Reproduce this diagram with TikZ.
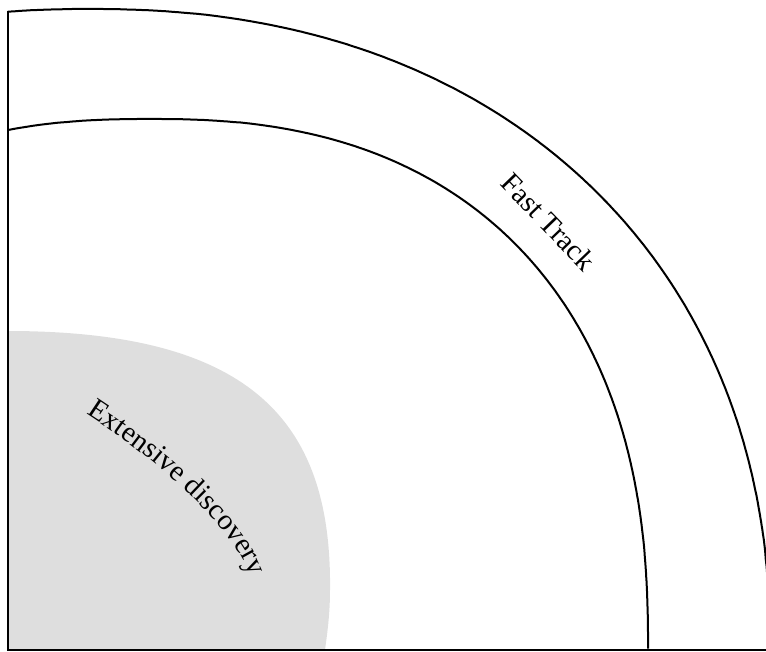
\documentclass[tikz,border=0pt]{standalone}
\usepackage{fontspec}
\setmainfont{Liberation Serif}
\usetikzlibrary{decorations.text}
\definecolor{blobgray}{RGB}{222,222,222}
\tikzset{
  frameline/.style={line width=2pt, line cap=rect},
  bandline/.style={line width=2pt},
  labeltext/.style={font=\fontsize{29}{32}\selectfont, text=black}
}
\begin{document}
\begin{tikzpicture}[x=1pt,y=-1pt]
\useasboundingbox (0,0) rectangle (766,652);
\begin{scope}
  \clip (7.5,0) rectangle (766,650);
  \fill[blobgray] (7.5,331) .. controls (250,331) and (332,420) .. (330,590)
        .. controls (330,615) and (327,635) .. (325,650) -- (7.5,650) -- cycle;
  % outer curve
  \draw[bandline] plot[domain=0.05:100, samples=300, variable=\t, smooth]
     ({90+680*sign(cos(\t))*abs(cos(\t))^0.909}, {650-641*abs(sin(\t))^0.909});
  % inner curve
  \draw[bandline] plot[domain=0.05:112, samples=300, variable=\t, smooth]
     ({150+498*sign(cos(\t))*abs(cos(\t))^0.8333}, {650-531*abs(sin(\t))^0.8333});
\end{scope}
\coordinate (topleft) at (7.5,11.8);
\coordinate (corner) at (7.5,650);
\coordinate (rightend) at (766,650);
\draw[frameline] (topleft) -- (corner) -- (rightend);
\node[labeltext, anchor=base, rotate=-46] (fast) at (541.5,228.5) {Fast Track};
\path[decorate, decoration={text along path, text align=center,
      text={|\fontsize{29}{32}\selectfont|Extensive discovery}}]
  (63,399) -- (88,415) .. controls (155,459) and (227.5,519) .. (250,575) -- (261,602);
\end{tikzpicture}
\end{document}
